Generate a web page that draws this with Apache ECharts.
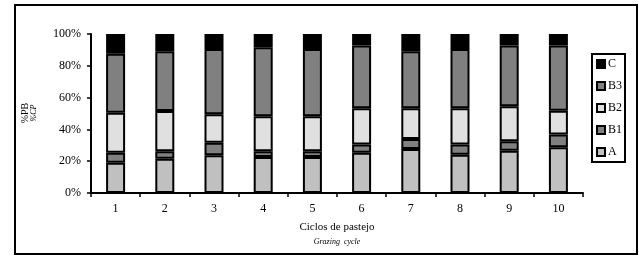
<!DOCTYPE html>
<html>
<head>
<meta charset="utf-8">
<script src="https://cdn.jsdelivr.net/npm/echarts@6/dist/echarts.min.js"></script>
<style>
html, body { margin: 0; padding: 0; background: #fff; }
#chart { width: 639px; height: 257px; }
</style>
</head>
<body>
<div id="chart"></div>
<script>
var cycles = ['1', '2', '3', '4', '5', '6', '7', '8', '9', '10'];
var seriesA  = [19.0, 21.5, 23.8, 22.7, 22.7, 25.3, 27.6, 24.0, 26.5, 28.8];
var seriesB1 = [6.3, 4.8, 7.8, 3.6, 3.6, 5.2, 6.3, 6.5, 6.1, 8.0];
var seriesB2 = [25.2, 25.3, 17.9, 21.9, 21.9, 22.8, 19.4, 22.8, 21.9, 15.0];
var seriesB3 = [37.1, 37.5, 41.0, 43.4, 42.3, 39.5, 35.8, 37.2, 38.3, 41.0];
var seriesC  = [12.4, 10.9, 9.5, 8.4, 9.5, 7.2, 10.9, 9.5, 7.2, 7.2];
var yTicks = [0, 20, 40, 60, 80, 100];

var font = 'Liberation Serif';
var chart = echarts.init(document.getElementById('chart'));

function bar(name, data, color) {
    return {
        name: name,
        type: 'bar',
        stack: 'total',
        barWidth: 19,
        data: data,
        itemStyle: { color: color, borderColor: '#000', borderWidth: 2 }
    };
}

var option = {
    animation: false,
    textStyle: { fontFamily: font },
    grid: { left: 91, right: 56, top: 34, bottom: 64 },
    legend: {
        orient: 'vertical',
        right: 14,
        top: 54,
        data: ['C', 'B3', 'B2', 'B1', 'A'],
        icon: 'rect',
        itemWidth: 8,
        itemHeight: 8,
        itemGap: 10,
        padding: [4, 3, 4, 4],
        borderColor: '#000',
        borderWidth: 2,
        textStyle: { fontFamily: font, fontSize: 12, color: '#000', padding: [0, 0, 0, -2] }
    },
    xAxis: {
        type: 'category',
        data: cycles,
        axisLine: { lineStyle: { color: '#000', width: 2 } },
        axisTick: { show: true, length: 4, lineStyle: { color: '#000', width: 1.5 } },
        axisLabel: { color: '#000', fontFamily: font, fontSize: 12, margin: 10 }
    },
    yAxis: {
        type: 'value',
        min: 0,
        max: 100,
        interval: 20,
        axisLine: { show: true, lineStyle: { color: '#000', width: 2 } },
        axisTick: { show: true, length: 4, lineStyle: { color: '#000', width: 1.5 } },
        splitLine: { show: false },
        axisLabel: {
            color: '#000', fontFamily: font, fontSize: 12, margin: 10,
            formatter: function(v) { return yTicks.indexOf(v) >= 0 ? v + '%' : ''; }
        }
    },
    series: [
        bar('A', seriesA, '#c0c0c0'),
        bar('B1', seriesB1, '#808080'),
        bar('B2', seriesB2, '#e0e0e0'),
        bar('B3', seriesB3, '#808080'),
        bar('C', seriesC, '#000000')
    ],
    graphic: [
        {
            type: 'rect',
            shape: { x: 15, y: 5, width: 622, height: 249 },
            style: { fill: 'none', stroke: '#000', lineWidth: 2 },
            z: 100
        },
        {
            type: 'text', x: 25, y: 113, rotation: Math.PI / 2,
            style: { text: '%PB', font: '10px "Liberation Serif"', fill: '#000', align: 'center', verticalAlign: 'middle' }
        },
        {
            type: 'text', x: 34, y: 113, rotation: Math.PI / 2,
            style: { text: '%CP', font: 'italic 8px "Liberation Serif"', fill: '#000', align: 'center', verticalAlign: 'middle' }
        },
        {
            type: 'text', x: 337, y: 227,
            style: { text: 'Ciclos de pastejo', font: '11px "Liberation Serif"', fill: '#000', align: 'center', verticalAlign: 'middle' }
        },
        {
            type: 'text', x: 337, y: 242,
            style: { text: 'Grazing  cycle', font: 'italic 8px "Liberation Serif"', fill: '#000', align: 'center', verticalAlign: 'middle' }
        }
    ]
};
chart.setOption(option);
</script>
</body>
</html>
